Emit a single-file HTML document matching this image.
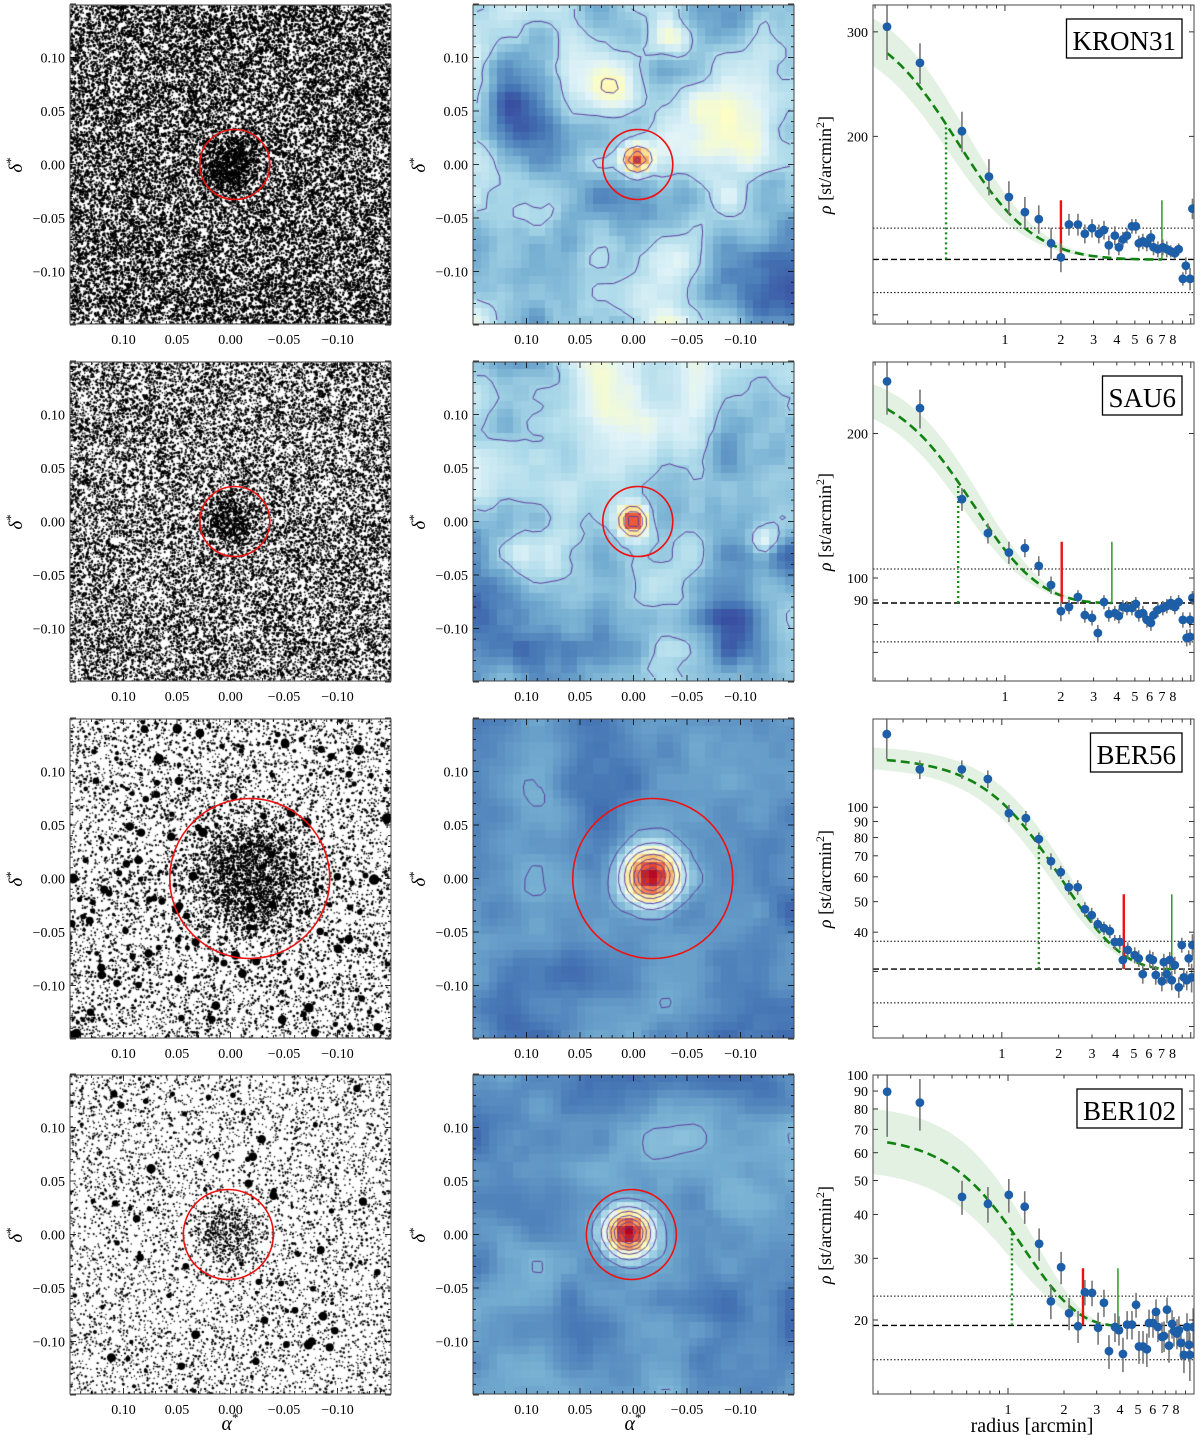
<!DOCTYPE html>
<html><head><meta charset="utf-8">
<style>
body{margin:0;background:#fff;width:1200px;height:1444px;position:relative;overflow:hidden;font-family:"Liberation Serif",serif}
canvas{position:absolute}
#fig{position:absolute;left:0;top:0}
</style></head>
<body>
<div id="canv"></div>
<svg id="fig" width="1200" height="1444" xmlns="http://www.w3.org/2000/svg" font-family="Liberation Serif, serif"></svg>
<script>
// ---------- profile data (radius arcmin, density st/arcmin^2, error) ----------
const r1=[0.232,0.349,0.587,0.82,1.05,1.28,1.52,1.77,2.0,2.21,2.47,2.69,2.94,3.2,3.41,3.62,3.9,4.1,4.31,4.53,4.82,5.06,5.25,5.52,5.8,6.1,6.3,6.65,7.07,7.43,7.8,8.2,8.6,9.06,9.4,9.9,10.2];
const rho1=[306,266,204,171,158,149,145,132,125,142,142,137,140,137,139,131,136,130,134,136,141,141,132,133,132,135,130,129,130,129,128,127,129,115,121,115,151];
const err1=[37,21,16,12,10,9,8,8,7,6,6,5,5,5,5,5,5,4,4,4,4,4,4,4,4,4,4,4,4,4,3,3,3,3,4,5,6];
const r2=[0.232,0.349,0.587,0.81,1.05,1.28,1.52,1.77,2.0,2.21,2.47,2.69,2.94,3.16,3.41,3.62,3.9,4.1,4.31,4.53,4.82,5.06,5.25,5.52,5.8,6.1,6.3,6.65,7.07,7.43,7.8,8.2,8.6,9.06,9.5,9.9,10.2,9.9];
const rho2=[257,226,146,124,113,115.5,106,96.7,85.3,87,91.3,83.7,82.6,76.8,89.1,84.1,84.5,83.4,87,86.6,86.6,88.3,84.1,84.5,81.8,80.6,83.7,85.8,86.6,87.4,88.7,87,89.1,81.8,75,75.4,90.9,81.8];
const err2=[38,21,8,6,6,5,5,4,4,3,3,3,3,3,3,3,3,3,3,3,3,3,3,3,3,3,3,3,3,3,3,3,3,3,3,3,3,3];
const r3=[0.246,0.368,0.614,0.843,1.09,1.34,1.57,1.82,2.05,2.26,2.52,2.75,2.99,3.22,3.47,3.73,3.96,4.21,4.37,4.64,5.05,5.3,5.57,6.07,6.3,6.53,7.03,7.2,7.46,7.74,7.93,8.23,8.64,8.96,9.18,9.52,9.75,10.1,10.2];
const rho3=[171,132,132,123,95.7,92.3,79.1,67.3,62.1,55.6,55.6,47.3,45.3,42.4,41.2,40.3,37.2,37.2,32.6,35.1,33.8,33.0,29.4,33.0,32.6,29.2,27.9,32.1,29.4,32.6,28.1,31.4,26.7,36.4,28.7,28.1,33.0,28.7,36.4];
const err3=[29,9,9,8,6,5,4,4,3,3,3,2.5,2.5,2,2,2,2,2,2,2,2,2,2,2,2,2,2,2,2,2,2,2,2,2,2,2,2,3,3];
const r4=[0.224,0.336,0.566,0.78,1.01,1.23,1.47,1.93,1.70,2.13,2.38,2.59,2.83,3.05,3.28,3.49,3.76,3.95,4.15,4.37,4.64,4.88,5.06,5.32,5.58,5.73,6.02,6.25,6.4,6.73,6.9,7.16,7.34,7.62,7.8,8.1,8.3,8.5,8.83,9.17,9.4,9.5,9.9];
const rho4=[89.6,83.4,44.9,42.9,45.5,42.1,33.0,28.3,22.6,20.9,19.2,24.0,23.9,19.0,22.4,16.3,19.1,18.7,16.0,19.4,19.4,22.1,16.8,16.8,16.5,19.6,19.6,21.1,19.1,17.9,18.0,21.4,16.9,19.5,18.6,18.3,18.7,17.2,15.9,19.1,17.0,15.9,19.1];
const err4=[23,14,5,5,5,4.5,3.5,3,2.5,2.2,2,2,2,2,2,1.8,1.8,1.8,1.8,1.8,1.8,1.8,1.8,1.8,1.8,1.8,1.8,1.8,1.8,1.8,1.8,1.8,1.8,1.8,1.8,1.8,1.8,1.8,1.8,1.8,1.8,2.5,2.5];
// King (1962) fit parameters: background, central excess, core radius, tidal radius
const names=["KRON31","SAU6","BER56","BER102"];
const bgs=[124,88.7,30.5,19.3];
const ks=[224,226,174,85];
const rcs=[0.45,0.55,1.53,1.0];
const rMarks=[0.482,0.56,1.57,1.05];
const rReds=[2.0,2.02,4.42,2.53];
const rGreens=[6.99,3.76,7.93,3.9];
const lineTops=[156,119,52.8,28.1];
const dotHi=[140,104.4,37.4,23.4];
const dotLo=[109,73.6,23.8,15.4];
const xDoms=[[0.195,10.4],[0.195,10.4],[0.208,10.4],[0.188,10.0]];
const yDoms=[[96.5,333],[61,282],[18.4,191],[12.3,100]];
const yTickVals=[[100,200,300],[70,80,90,100,200],[20,30,40,50,60,70,80,90,100],[20,30,40,50,60,70,80,90,100]];
const yTickLabels=[[200,300],[90,100,200],[40,50,60,70,80,90,100],[20,30,40,50,60,70,80,90,100]];
const xTickLabels=[1,2,3,4,5,6,7,8];
const axTickLabels=["0.10","0.05","0.00","\u22120.05","\u22120.10"];
const axTickVals=[0.10,0.05,0.00,-0.05,-0.10];

const ROWS=[5,362,719,1075], W=321, H=319, LX=70, MX=473, RX=873;
const NS='http://www.w3.org/2000/svg';
const svg=document.getElementById('fig');
const canv=document.getElementById('canv');
function mk(tag,attrs,parent){const e=document.createElementNS(NS,tag);for(const k in attrs)e.setAttribute(k,attrs[k]);(parent||svg).appendChild(e);return e;}
function mulberry(a){return function(){a|=0;a=a+0x6D2B79F5|0;let t=Math.imul(a^a>>>15,1|a);t=t+Math.imul(t^t>>>7,61|t)^t;return((t^t>>>14)>>>0)/4294967296;}}

// ---------- star fields ----------
const starCfg=[
 {n:25000,rmin:0.8,rmax:1.8,big:0,cl:700,cr:38,cx:0.0,cy:0.0,seed:11},
 {n:21000,rmin:0.7,rmax:1.7,big:0,cl:600,cr:35,cx:0.0,cy:0.0,seed:22},
 {n:7500,rmin:0.7,rmax:1.7,big:230,cl:2200,cr:80,cx:-0.018,cy:0.0,seed:33},
 {n:6500,rmin:0.7,rmax:1.5,big:80,cl:450,cr:44,cx:0.003,cy:0.0,seed:44}];
starCfg.forEach((c,ri)=>{
  const cv=document.createElement('canvas');cv.width=W;cv.height=H;
  cv.style.left=LX+'px';cv.style.top=ROWS[ri]+'px';
  
  
  canv.appendChild(cv);
  const g=cv.getContext('2d');g.fillStyle='#fff';g.fillRect(0,0,W,H);g.fillStyle='#000';
  const R=mulberry(c.seed);
  const dot=(x,y,r)=>{g.beginPath();g.arc(x,y,r,0,6.2832);g.fill();};
  for(let i=0;i<c.n;i++)dot(R()*W,R()*H,c.rmin+(c.rmax-c.rmin)*R()*R());
  const ccx=160.5-c.cx*1070, ccy=159.5-c.cy*1070;
  for(let i=0;i<c.cl;i++){const a=R()*6.2832,d=c.cr*Math.sqrt(R())*(0.4+0.6*R());dot(ccx+d*Math.cos(a),ccy+d*Math.sin(a),c.rmin+(c.rmax-c.rmin)*R()*0.6);}
  for(let i=0;i<c.big;i++)dot(R()*W,R()*H,1.9+3.8*R()*R());
});

// ---------- density maps ----------
function cmap(v){
  const st=[[49,54,149],[69,117,180],[116,173,209],[171,217,233],[224,243,248],[255,255,191],[254,224,144],[253,174,97],[244,109,67],[215,48,39],[165,0,38]];
  v=Math.max(0,Math.min(1,v))*10;const i=Math.min(9,Math.floor(v)),f=v-i;
  const a=st[i],b=st[i+1];return 'rgb('+a.map((x,k)=>Math.round(x+(b[k]-x)*f)).join(',')+')';
}
function layer(R,n){const g=[];for(let i=0;i<(n+1)*(n+1);i++)g.push(R()*2-1);
  return (u,v)=>{const x=u*n,y=v*n;const i=Math.min(n-1,Math.floor(x)),j=Math.min(n-1,Math.floor(y));
  let fx=x-i,fy=y-j;fx=fx*fx*(3-2*fx);fy=fy*fy*(3-2*fy);
  const a=g[j*(n+1)+i],b=g[j*(n+1)+i+1],c=g[(j+1)*(n+1)+i],d=g[(j+1)*(n+1)+i+1];
  return a+(b-a)*fx+(c-a)*fy+(a-b-c+d)*fx*fy;};}
const mapCfg=[
 {base:0.27,amp:0.2,grad:0.0,peak:0.62,s:0.03,pu:0.51,pv:0.485,seed:5,lv:[0.3,0.5,0.68,0.82,0.92],
  bumps:[[0.43,0.27,0.2,0.06],[0.62,0.12,0.16,0.05],[0.73,0.38,0.17,0.08],[0.88,0.42,0.15,0.06],[0.58,0.47,0.12,0.07],[0.12,0.3,-0.15,0.08],[0.98,0.93,-0.1,0.08]]},
 {base:0.25,amp:0.2,grad:-0.2,peak:0.68,s:0.03,pu:0.5,pv:0.5,seed:7,lv:[0.28,0.5,0.65,0.8,0.92],
  bumps:[[0.4,0.4,0.1,0.08],[0.91,0.56,0.2,0.03],[0.45,0.15,0.12,0.06]]},
 {base:0.14,amp:0.09,grad:0.0,peak:0.84,s:0.06,pu:0.555,pv:0.495,seed:9,lv:[0.2,0.33,0.45,0.57,0.68,0.78,0.88],bumps:[]},
 {base:0.17,amp:0.1,grad:0.0,peak:0.82,s:0.05,pu:0.485,pv:0.495,seed:13,lv:[0.22,0.35,0.48,0.6,0.7,0.8,0.9],bumps:[]}];
const G=40;
mapCfg.forEach((c,ri)=>{
  const R=mulberry(c.seed);const L1=layer(R,5),L2=layer(R,10),L3=layer(R,20);
  const f=(u,v)=>{let x=c.base+c.amp*(0.6*L1(u,v)+0.35*L2(u,v)+0.15*L3(u,v))+c.grad*(v-0.5);
    x+=c.peak*Math.exp(-((u-c.pu)**2+(v-c.pv)**2)/(2*c.s*c.s));
    c.bumps.forEach(b=>{x+=b[2]*Math.exp(-((u-b[0])**2+(v-b[1])**2)/(2*b[3]*b[3]));});return x;};
  const cv=document.createElement('canvas');cv.width=W;cv.height=H;
  cv.style.left=MX+'px';cv.style.top=ROWS[ri]+'px';
  
  
  canv.appendChild(cv);
  const g=cv.getContext('2d');const cw=W/G,ch=H/G;const V=[];
  for(let j=0;j<G;j++){V.push([]);for(let i=0;i<G;i++){const v=f((i+0.5)/G,(j+0.5)/G);V[j].push(v);
    g.fillStyle=cmap(v);g.fillRect(Math.floor(i*cw),Math.floor(j*ch),Math.ceil(cw)+1,Math.ceil(ch)+1);}}
  g.strokeStyle='#5b3f9e';g.lineWidth=1;
  c.lv.forEach(L=>{
    for(let j=0;j<G-1;j++)for(let i=0;i<G-1;i++){
      const p=[[i,j,V[j][i]],[i+1,j,V[j][i+1]],[i+1,j+1,V[j+1][i+1]],[i,j+1,V[j+1][i]]];const pts=[];
      for(let e=0;e<4;e++){const a=p[e],b=p[(e+1)%4];if((a[2]-L)*(b[2]-L)<0){const t=(L-a[2])/(b[2]-a[2]);
        pts.push([(a[0]+(b[0]-a[0])*t+0.5)*cw,(a[1]+(b[1]-a[1])*t+0.5)*ch]);}}
      for(let k=0;k+1<pts.length;k+=2){g.beginPath();g.moveTo(pts[k][0],pts[k][1]);g.lineTo(pts[k+1][0],pts[k+1][1]);g.stroke();}
    }});
});

// ---------- sky axes (left & middle) ----------
const circR=[35,35,80,45];
const circC=[[-0.004,0.0],[-0.004,0.0],[-0.018,0.0],[0.002,0.0]];
function skyAxes(x0,t,ri,col){
  const sx=a=>x0+160.5-a*1070, sy=d=>t+159.5-d*1070;
  const grp=mk('g',{});
  
  
  const circ=mk('circle',{cx:sx(circC[ri][0]),cy:sy(circC[ri][1]),r:circR[ri],fill:'none',stroke:'#ee1111','stroke-width':1.6},grp);
  
  
  for(let m=-15;m<=15;m++){const a=m/100;const maj=(m%5===0);const L=maj?6:3;
    mk('line',{x1:sx(a),x2:sx(a),y1:t+H,y2:t+H-L,stroke:'#000','stroke-width':0.8},grp);
    mk('line',{x1:sx(a),x2:sx(a),y1:t,y2:t+L,stroke:'#000','stroke-width':0.8},grp);
    mk('line',{x1:x0,x2:x0+L,y1:sy(a),y2:sy(a),stroke:'#000','stroke-width':0.8},grp);
    mk('line',{x1:x0+W,x2:x0+W-L,y1:sy(a),y2:sy(a),stroke:'#000','stroke-width':0.8},grp);}
  axTickVals.forEach((a,k)=>{
    const tx=mk('text',{x:sx(a),y:t+H+20,'font-size':14,'text-anchor':'middle'},grp);tx.textContent=axTickLabels[k];
    
    
    const ty=mk('text',{x:x0-5,y:sy(a)+5,'font-size':14,'text-anchor':'end'},grp);ty.textContent=axTickLabels[k];
    
    });
  const fr=mk('rect',{x:x0,y:t,width:W,height:H,fill:'none',stroke:'#444','stroke-width':1},grp);
  
  
  const yl=mk('text',{x:0,y:0,'font-size':19,'font-style':'italic','text-anchor':'middle',transform:'translate('+(x0-48)+','+(t+160)+') rotate(-90)'},grp);
  yl.innerHTML='δ<tspan font-style="normal" font-size="13" dy="-7">*</tspan>';
  
  
  if(ri===3){const xl=mk('text',{x:x0+160,y:1430,'font-size':20,'font-style':'italic','text-anchor':'middle'},grp);
    xl.innerHTML='α<tspan font-style="normal" font-size="13" dy="-8">*</tspan>';
    
    }
}
ROWS.forEach((t,ri)=>{skyAxes(LX,t,ri,'star-field');skyAxes(MX,t,ri,'density-map');});

// ---------- radial profiles ----------
const RS=[r1,r2,r3,r4],RH=[rho1,rho2,rho3,rho4],ER=[err1,err2,err3,err4];
ROWS.forEach((t,ri)=>{
  const xd=xDoms[ri],yd=yDoms[ri];
  const X=r=>RX+(Math.log10(r)-Math.log10(xd[0]))/(Math.log10(xd[1])-Math.log10(xd[0]))*W;
  const Y=v=>t+H-(Math.log10(v)-Math.log10(yd[0]))/(Math.log10(yd[1])-Math.log10(yd[0]))*H;
  const bg=bgs[ri],k=ks[ri],rc=rcs[ri],rt=rGreens[ri];
  const king=(r,kk,rr)=>{const c=1/Math.sqrt(1+(rt/rr)**2);const q=Math.max(0,1/Math.sqrt(1+(r/rr)**2)-c);return bg+kk*q*q;};
  const grp=mk('g',{});
  
  
  const cp=mk('clipPath',{id:'cp'+ri},grp);mk('rect',{x:RX,y:t,width:W,height:H},cp);
  const inner=mk('g',{'clip-path':'url(#cp'+ri+')'},grp);
  const up=[],lo=[];const wide=ri===3?0.4:0.16;
  for(let s=0;s<=60;s++){const r=Math.exp(Math.log(xd[0])+(Math.log(rt)-Math.log(xd[0]))*s/60);
    up.push(X(r).toFixed(1)+','+Y(king(r,k*(1+wide),rc*1.1)).toFixed(1));
    lo.unshift(X(r).toFixed(1)+','+Y(king(r,k*(1-wide*0.8),rc*0.9)).toFixed(1));}
  const band=mk('polygon',{points:up.concat(lo).join(' '),fill:'#d8ecd8',opacity:0.75},inner);
  
  
  const bgl=mk('line',{x1:RX,x2:RX+W,y1:Y(bg),y2:Y(bg),stroke:'#000','stroke-width':1.4,'stroke-dasharray':'6,3'},inner);
  
  
  [dotHi[ri],dotLo[ri]].forEach(v=>{const l=mk('line',{x1:RX,x2:RX+W,y1:Y(v),y2:Y(v),stroke:'#000','stroke-width':1,'stroke-dasharray':'1.5,2'},inner);
    
    });
  const cm=mk('line',{x1:X(rMarks[ri]),x2:X(rMarks[ri]),y1:Y(bg),y2:Y(king(rMarks[ri],k,rc)),stroke:'#1a8a1a','stroke-width':2.4,'stroke-dasharray':'2,3'},inner);
  
  
  const fp=[];const r0=RS[ri][0];
  for(let s=0;s<=80;s++){const r=Math.exp(Math.log(r0)+(Math.log(rt)-Math.log(r0))*s/80);fp.push((s?'L':'M')+X(r).toFixed(1)+','+Y(king(r,k,rc)).toFixed(1));}
  const fc=mk('path',{d:fp.join(''),fill:'none',stroke:'#128212','stroke-width':2.6,'stroke-dasharray':'9,5'},inner);
  
  
  const rl=mk('line',{x1:X(rReds[ri]),x2:X(rReds[ri]),y1:Y(bg),y2:Y(lineTops[ri]),stroke:'#ee1111','stroke-width':2.4},inner);
  
  
  const gl=mk('line',{x1:X(rt),x2:X(rt),y1:Y(bg),y2:Y(lineTops[ri]),stroke:'#2a9a2a','stroke-width':1.5},inner);
  
  
  RS[ri].forEach((r,i)=>{const v=RH[ri][i],e=ER[ri][i];
    const eb=mk('line',{x1:X(r),x2:X(r),y1:Y(v+e),y2:Y(Math.max(v-e,0.1)),stroke:'#777','stroke-width':1.6},inner);
    
    });
  RS[ri].forEach((r,i)=>{const v=RH[ri][i];
    const pt=mk('circle',{cx:X(r),cy:Y(v),r:4.4,fill:'#1d5ea8'},inner);
    
    });
  for(let d=-1;d<=1;d++)for(let m=1;m<=9;m++){const r=m*Math.pow(10,d);if(r<xd[0]||r>xd[1])continue;const L=(m===1)?6:3.5;
    mk('line',{x1:X(r),x2:X(r),y1:t+H,y2:t+H-L,stroke:'#000','stroke-width':0.8},grp);
    mk('line',{x1:X(r),x2:X(r),y1:t,y2:t+L,stroke:'#000','stroke-width':0.8},grp);}
  xTickLabels.forEach(v=>{const tx=mk('text',{x:X(v),y:t+H+20,'font-size':14,'text-anchor':'middle'},grp);tx.textContent=v;
    
    });
  yTickVals[ri].forEach(v=>{if(v<yd[0]||v>yd[1])return;
    mk('line',{x1:RX,x2:RX+5,y1:Y(v),y2:Y(v),stroke:'#000','stroke-width':0.8},grp);
    mk('line',{x1:RX+W,x2:RX+W-5,y1:Y(v),y2:Y(v),stroke:'#000','stroke-width':0.8},grp);});
  yTickLabels[ri].forEach(v=>{const ty=mk('text',{x:RX-5,y:Y(v)+5,'font-size':14,'text-anchor':'end'},grp);ty.textContent=v;
    
    });
  const fr=mk('rect',{x:RX,y:t,width:W,height:H,fill:'none',stroke:'#444','stroke-width':1},grp);
  
  
  const nt=mk('text',{x:1176,y:t+45,'font-size':27,'text-anchor':'end'},grp);nt.textContent=names[ri];
  
  
  const bb=nt.getBBox();
  const nb=mk('rect',{x:bb.x-6,y:t+14,width:bb.width+12,height:39,fill:'none',stroke:'#000','stroke-width':1.3},grp);
  
  
  const yl=mk('text',{x:0,y:0,'font-size':18,'text-anchor':'middle',transform:'translate('+(RX-42)+','+(t+160)+') rotate(-90)'},grp);
  yl.innerHTML='<tspan font-style="italic">ρ</tspan> [st/arcmin<tspan font-size="12" dy="-7">2</tspan><tspan dy="7">]</tspan>';
  
  
  if(ri===3){const xl=mk('text',{x:1032,y:1432,'font-size':20,'text-anchor':'middle'},grp);xl.textContent='radius [arcmin]';
    
    }
});
</script>
</body></html>
